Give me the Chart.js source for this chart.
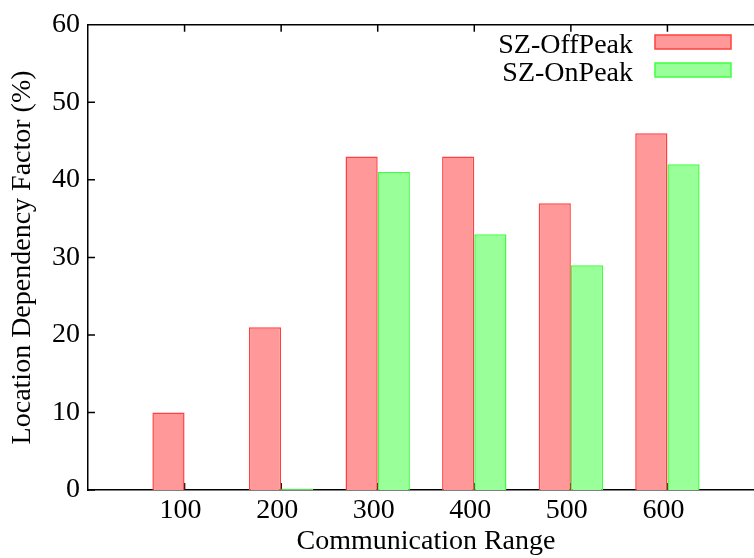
<!DOCTYPE html>
<html>
<head>
<meta charset="utf-8">
<script src="https://cdn.jsdelivr.net/npm/chart.js@4.4.1/dist/chart.umd.min.js"></script>
<style>
  html, body { margin: 0; padding: 0; background: #fff; overflow: hidden; }
  /* plot frame runs a little past the right edge of the window, as in the original */
  #wrap { width: 764px; height: 558px; }
</style>
</head>
<body>
<div id="wrap"><canvas id="chart"></canvas></div>
<script>
// categories (communication range) and values in %
const ranges = ["100", "200", "300", "400", "500", "600"];
const offPeak = [10, 21, 43, 43, 37, 46];
const onPeak = [0, 0.2, 41, 33, 29, 42];
const yTicks = [0, 10, 20, 30, 40, 50, 60];

Chart.defaults.font.family = '"Liberation Serif", "Times New Roman", serif';
Chart.defaults.font.size = 28;
Chart.defaults.color = "#000";

// gnuplot-like frame: top border + inward tick marks, drawn under the bars
const frameTicks = {
  id: "frameTicks",
  beforeDatasetsDraw(chart) {
    const { ctx, chartArea: a, scales } = chart;
    ctx.save();
    ctx.strokeStyle = "#000";
    ctx.lineWidth = 1.5;
    ctx.beginPath();
    ctx.moveTo(a.left, a.top);
    ctx.lineTo(a.right, a.top);
    ranges.forEach((_, i) => {
      const x = scales.x.getPixelForValue(i);
      ctx.moveTo(x, a.top);
      ctx.lineTo(x, a.top + 7);
      ctx.moveTo(x, a.bottom);
      ctx.lineTo(x, a.bottom - 7);
    });
    yTicks.forEach((v) => {
      const y = scales.y.getPixelForValue(v);
      ctx.moveTo(a.left, y);
      ctx.lineTo(a.left + 7, y);
    });
    ctx.stroke();
    ctx.restore();
  },
};

// legend in the gnuplot style: text right-aligned, sample box after it
const keyBox = {
  id: "keyBox",
  afterDraw(chart) {
    const { ctx } = chart;
    ctx.save();
    ctx.font = '28px "Liberation Serif", "Times New Roman", serif';
    ctx.textAlign = "right";
    ctx.textBaseline = "alphabetic";
    chart.data.datasets.forEach((ds, i) => {
      const cy = 42 + i * 28;
      ctx.fillStyle = "#000";
      ctx.fillText(ds.label, 633, cy + 11);
      ctx.fillStyle = ds.backgroundColor;
      ctx.fillRect(655, cy - 7, 76, 14);
      ctx.strokeStyle = ds.borderColor;
      ctx.lineWidth = 1.5;
      ctx.strokeRect(655, cy - 7, 76, 14);
    });
    ctx.restore();
  },
};

const ctx = document.getElementById("chart");
new Chart(ctx, {
  type: "bar",
  data: {
    datasets: [
      {
        label: "SZ-OffPeak",
        data: offPeak.map((v, i) => ({ x: i, y: v })),
        backgroundColor: "#ff9999",
        borderColor: "#ff4040",
        borderWidth: 1.5,
      },
      {
        label: "SZ-OnPeak",
        data: onPeak.map((v, i) => ({ x: i, y: v })),
        backgroundColor: "#99ff99",
        borderColor: "#40ff40",
        borderWidth: 1.5,
      },
    ],
  },
  options: {
    responsive: true,
    maintainAspectRatio: false,
    animation: false,
    categoryPercentage: 2 / 3,
    barPercentage: 1,
    layout: { padding: { top: 20, right: 0, left: 0, bottom: 0 } },
    scales: {
      x: {
        type: "linear",
        min: -1,
        max: 6,
        offset: false,
        grid: { display: false, drawTicks: false },
        border: { display: true, color: "#000", width: 1.5 },
        afterBuildTicks: (scale) => {
          scale.ticks = ranges.map((_, i) => ({ value: i }));
        },
        ticks: {
          padding: 4,
          labelOffset: -4,
          maxRotation: 0,
          autoSkip: false,
          callback: (v) => ranges[v],
        },
        title: {
          display: true,
          text: "Communication Range",
          padding: { top: 0, bottom: 0 },
        },
        afterFit: (scale) => { scale.height = 68; },
      },
      y: {
        min: 0,
        max: 60,
        grid: { display: false, drawTicks: false },
        border: { display: true, color: "#000", width: 1.5 },
        afterBuildTicks: (scale) => {
          scale.ticks = yTicks.map((v) => ({ value: v }));
        },
        ticks: { padding: 8 },
        title: {
          display: true,
          text: "Location Dependency Factor (%)",
          padding: { top: 6, bottom: 0 },
        },
        afterFit: (scale) => { scale.width = 88; },
      },
    },
    plugins: {
      legend: { display: false },
      tooltip: { enabled: false },
    },
  },
  plugins: [frameTicks, keyBox],
});
</script>
</body>
</html>
